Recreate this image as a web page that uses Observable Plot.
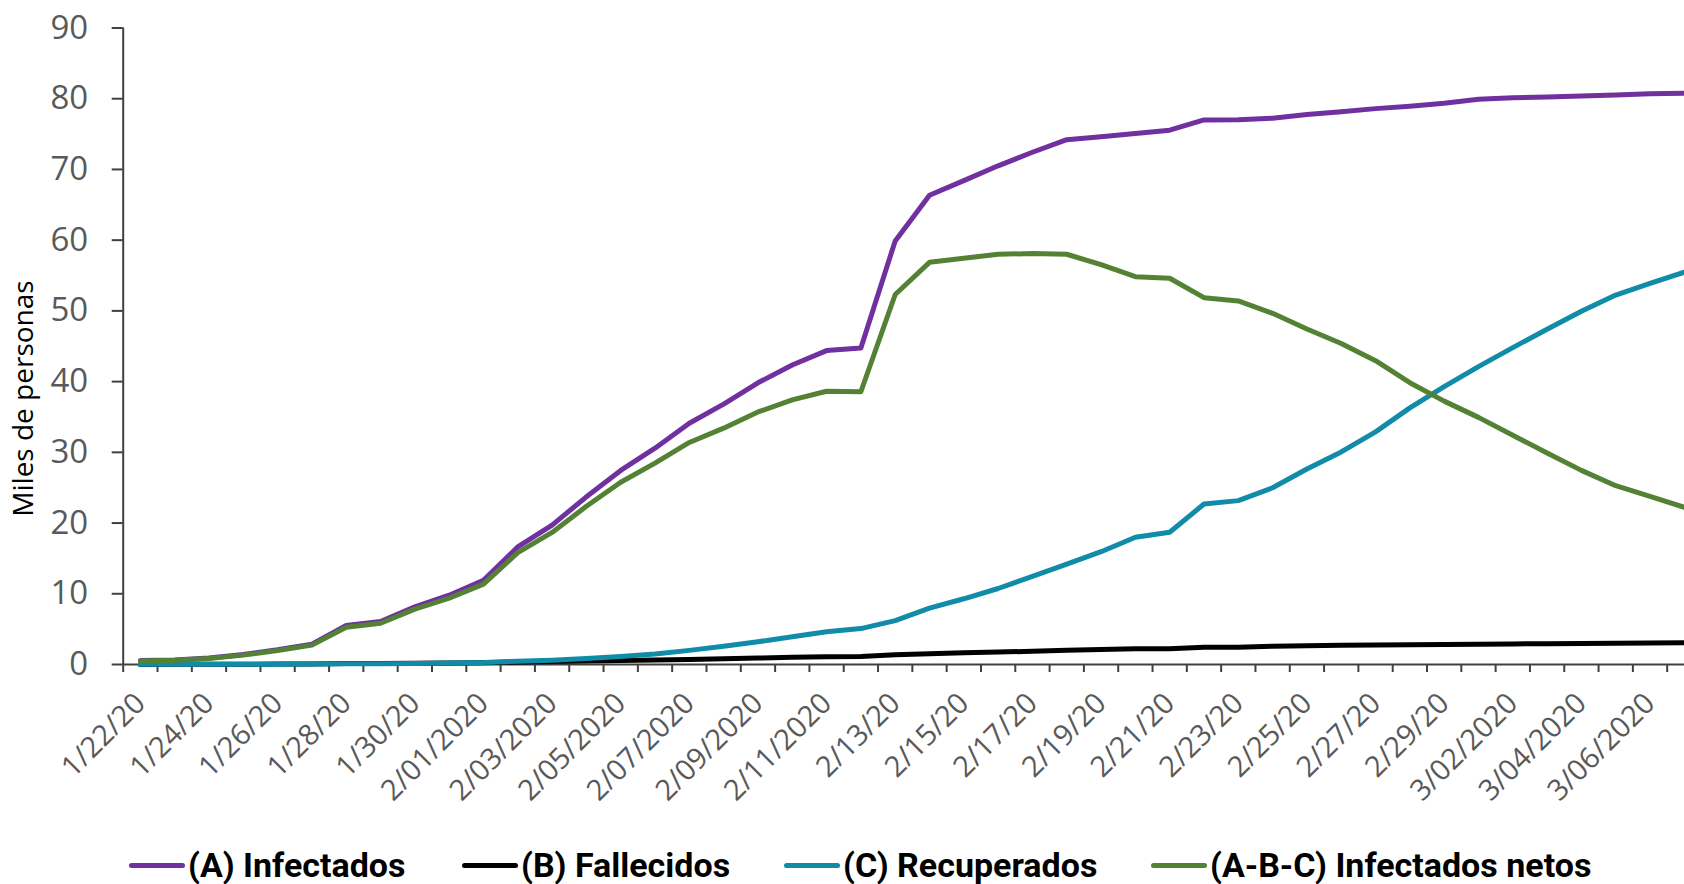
<!DOCTYPE html>
<html><head><meta charset="utf-8">
<script src="https://cdn.jsdelivr.net/npm/d3@7"></script>
<script src="https://cdn.jsdelivr.net/npm/@observablehq/plot@0.6"></script>
<style>
body{margin:0;background:#fff;overflow:hidden}
#wrap{position:relative;width:1684px;height:884px;background:#fff}
.leg{position:absolute;top:843px;height:44px;display:flex;align-items:center;font-family:Roboto,sans-serif;font-weight:bold;font-size:34px;color:#000;white-space:nowrap}
.sw{width:56px;height:5px;border-radius:3px;margin-right:3px}
</style></head><body><div id="wrap"></div>
<script>
const fechas = ["1/22/20","1/23/20","1/24/20","1/25/20","1/26/20","1/27/20","1/28/20","1/29/20","1/30/20","1/31/20",
"2/01/2020","2/02/2020","2/03/2020","2/04/2020","2/05/2020","2/06/2020","2/07/2020","2/08/2020","2/09/2020","2/10/2020","2/11/2020","2/12/2020",
"2/13/20","2/14/20","2/15/20","2/16/20","2/17/20","2/18/20","2/19/20","2/20/20","2/21/20","2/22/20","2/23/20","2/24/20","2/25/20","2/26/20","2/27/20","2/28/20","2/29/20",
"3/01/2020","3/02/2020","3/03/2020","3/04/2020","3/05/2020","3/06/2020","3/07/2020"];

const infectados = [0.548,0.643,0.920,1.406,2.075,2.877,5.509,6.087,8.141,9.802,
11.891,16.630,19.716,23.707,27.440,30.587,34.110,36.814,39.829,42.354,
44.386,44.759,59.895,66.358,68.413,70.513,72.434,74.211,74.619,75.077,
75.550,77.001,77.022,77.241,77.754,78.166,78.600,78.928,79.356,
79.932,80.136,80.261,80.386,80.537,80.690,80.770];

const fallecidos = [0.017,0.018,0.026,0.042,0.056,0.082,0.131,0.133,0.171,0.213,
0.259,0.361,0.425,0.490,0.562,0.632,0.717,0.804,0.904,1.011,
1.111,1.116,1.368,1.520,1.662,1.765,1.863,2.002,2.114,2.236,
2.236,2.441,2.443,2.593,2.663,2.715,2.744,2.788,2.835,
2.870,2.912,2.945,2.981,3.013,3.042,3.070];

const recuperados = [0.028,0.030,0.036,0.039,0.049,0.058,0.101,0.120,0.135,0.214,
0.275,0.463,0.614,0.843,1.115,1.476,1.998,2.595,3.218,3.917,
4.635,5.079,6.213,7.973,9.294,10.748,12.455,14.199,15.952,18.002,
18.693,22.687,23.170,24.990,27.650,30.053,32.898,36.291,39.279,
42.118,44.810,47.404,49.955,52.240,53.888,55.478];

const netos = [0.503,0.595,0.858,1.325,1.970,2.737,5.277,5.834,7.835,9.375,
11.357,15.806,18.677,22.374,25.763,28.479,31.395,33.415,35.707,37.426,
38.640,38.564,52.314,56.865,57.457,58.000,58.116,58.010,56.553,54.839,
54.621,51.873,51.409,49.658,47.441,45.398,42.958,39.849,37.242,
34.944,32.414,29.912,27.450,25.284,23.760,22.222];

const series = ["(A) Infectados","(B) Fallecidos","(C) Recuperados","(A-B-C) Infectados netos"];
const colores = ["#7030A0","#000000","#108BA8","#548235"];
const yTicks = [0,10,20,30,40,50,60,70,80,90];

const valores = [infectados, fallecidos, recuperados, netos];
const rows = [];
series.forEach((s, k) => valores[k].forEach((v, i) => rows.push({serie: s, i, v})));

const chart = Plot.plot({
  width: 1684, height: 820,
  marginLeft: 122.7, marginRight: 0, marginTop: 27.5, marginBottom: 156,
  style: {fontFamily: "'Open Sans', sans-serif", background: "white", overflow: "visible"},
  x: {type: "linear", domain: [-0.5, 45.5], range: [122.7, 1701]},
  y: {domain: [0, 90], range: [664, 27.5]},
  color: {domain: series, range: colores},
  marks: [
    Plot.axisY({ticks: yTicks, tickSize: 11, tickPadding: 24, fontSize: 33, fill: "#595959", stroke: "#404040", strokeWidth: 2, label: null}),
    Plot.axisX({ticks: d3.range(47).map(i => i - 0.5), tickSize: 8, tickFormat: () => "", stroke: "#404040", strokeWidth: 2, label: null}),
    Plot.axisX({ticks: d3.range(0, 46, 2), tickFormat: i => fechas[i], tickRotate: -45, tickSize: 0, tickPadding: 34, fontSize: 29, fill: "#595959", label: null}),
    Plot.ruleX([-0.5], {y1: 0, y2: 90, stroke: "#404040", strokeWidth: 2}),
    Plot.ruleY([0], {stroke: "#404040", strokeWidth: 2}),
    Plot.text(["Miles de personas"], {frameAnchor: "left", textAnchor: "middle", dx: 24 - 122.7, dy: 398 - 345.75, rotate: -90, fontSize: 28, fill: "black"}),
    Plot.line(rows, {x: "i", y: "v", z: "serie", stroke: "serie", strokeWidth: 5, strokeLinejoin: "round", strokeLinecap: "round"})
  ]
});
const wrap = document.getElementById("wrap");
wrap.appendChild(chart);

const legX = [129, 462, 784, 1151];
series.forEach((s, k) => {
  const d = document.createElement("div");
  d.className = "leg";
  d.style.left = legX[k] + "px";
  d.innerHTML = `<span class="sw" style="background:${colores[k]}"></span><span>${s}</span>`;
  wrap.appendChild(d);
});
</script></body></html>
